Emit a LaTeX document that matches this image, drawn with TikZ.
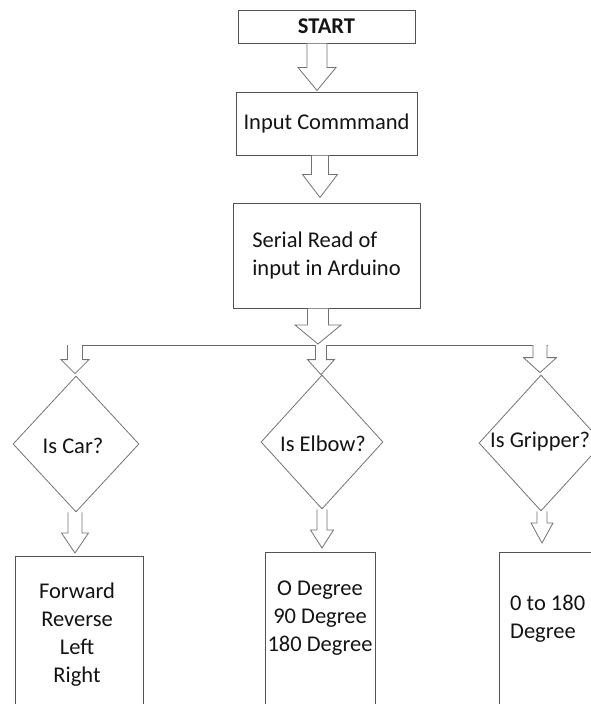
\documentclass[tikz,border=0pt]{standalone}
\usepackage{fontspec}
\setmainfont{Carlito}
\usetikzlibrary{shapes.geometric,calc}
\newcommand\blockarr[6]{% #1 from, #2 to, #3 shaft half, #4 head half, #5 head length, #6 x offset
  \draw[arr] let \p1=#1, \p2=#2 in
    (\x1+#6pt-#3pt,\y1) -- (\x1+#6pt-#3pt,\y2+#5pt) -- (\x1+#6pt-#4pt,\y2+#5pt)
    -- (\x1+#6pt,\y2) -- (\x1+#6pt+#4pt,\y2+#5pt) -- (\x1+#6pt+#3pt,\y2+#5pt)
    -- (\x1+#6pt+#3pt,\y1);}
\begin{document}
\begin{tikzpicture}[x=1pt,y=-1pt,
  box/.style={draw=black!68,line width=1pt,rectangle,inner sep=0pt,fill=white},
  dia/.style={draw=black!55,line width=0.8pt,diamond,inner sep=0pt,fill=white},
  arr/.style={draw=black!55,line width=0.8pt,fill=white,line join=miter},
  txt/.style={font=\fontsize{22.5}{28}\selectfont,text=black!92,inner sep=0pt},
  hline/.style={draw=black!60,line width=0.9pt}]
\useasboundingbox (0,0) rectangle (591,704);
\clip (0,0) rectangle (591,704);
\fill[white] (0,0) rectangle (591,704);
% top boxes
\node[box,txt,minimum width=177pt,minimum height=33pt] (start) at (326.5,26.5) {\bfseries START};
\node[box,txt,minimum width=181pt,minimum height=63pt] (input) at (326.5,123.5) {Input Commmand};
\node[box,txt,minimum width=187pt,minimum height=105pt,align=left] (ser) at (326.5,255.5) {Serial Read of\\input in Arduino};
% branch line
\coordinate (hl) at (67,345);
\coordinate (hr) at (548,345);
\coordinate (hm) at (318,345);
\coordinate (j1) at (75,345);
\coordinate (j2) at (321,345);
\coordinate (j3) at (540,345);
\draw[hline] (hl) -- (hr);
% diamonds
\node[dia,minimum width=126pt,minimum height=136pt] (d1) at (76,444) {};
\node[dia,minimum width=122pt,minimum height=134pt] (d2) at (322,442) {};
\node[dia,minimum width=124pt,minimum height=136pt] (d3) at (541,443) {};
\node[txt] (t1) at (73,446) {Is Car?};
\node[txt] (t2) at (323,444) {Is Elbow?};
\node[txt,anchor=west] (t3) at (490,442) {Is Gripper?};
% bottom boxes
\node[box,anchor=north west,minimum width=128pt,minimum height=170pt] (b1) at (15,556) {};
\node[box,anchor=north west,minimum width=110pt,minimum height=170pt] (b2) at (265,552) {};
\node[box,anchor=north west,minimum width=110pt,minimum height=170pt] (b3) at (499,552) {};
\node[txt,align=center] (b1t) at (77,635) {Forward\\Reverse\\Left\\Right};
\node[txt,align=center] (b2t) at (320,618) {O Degree\\90 Degree\\180 Degree};
\node[txt,align=left,anchor=west] (b3t) at (510,618.5) {0 to 180\\Degree};
% block arrows
\blockarr{(start.south)}{([yshift=1pt]input.north)}{10}{19}{23}{-9.5}
\blockarr{(input.south)}{([yshift=5pt]ser.north)}{8.5}{17.5}{23}{-6.5}
\blockarr{(ser.south)}{([yshift=1pt]hm)}{10.5}{23}{19}{-8.5}
\blockarr{(j1)}{([yshift=2pt]d1.north)}{7.5}{14}{14}{0}
\blockarr{(j2)}{(d2.north)}{5.5}{13.5}{15}{0}
\blockarr{(j3)}{([yshift=2pt]d3.north)}{7}{16.5}{15}{0}
\blockarr{(d1.south)}{([yshift=3pt]b1.north)}{7}{13.5}{20}{-1}
\blockarr{(d2.south)}{([yshift=4pt]b2.north)}{5}{11.5}{18}{0}
\blockarr{(d3.south)}{([yshift=9pt]b3.north)}{5}{11}{20}{1}
\end{tikzpicture}
\end{document}
